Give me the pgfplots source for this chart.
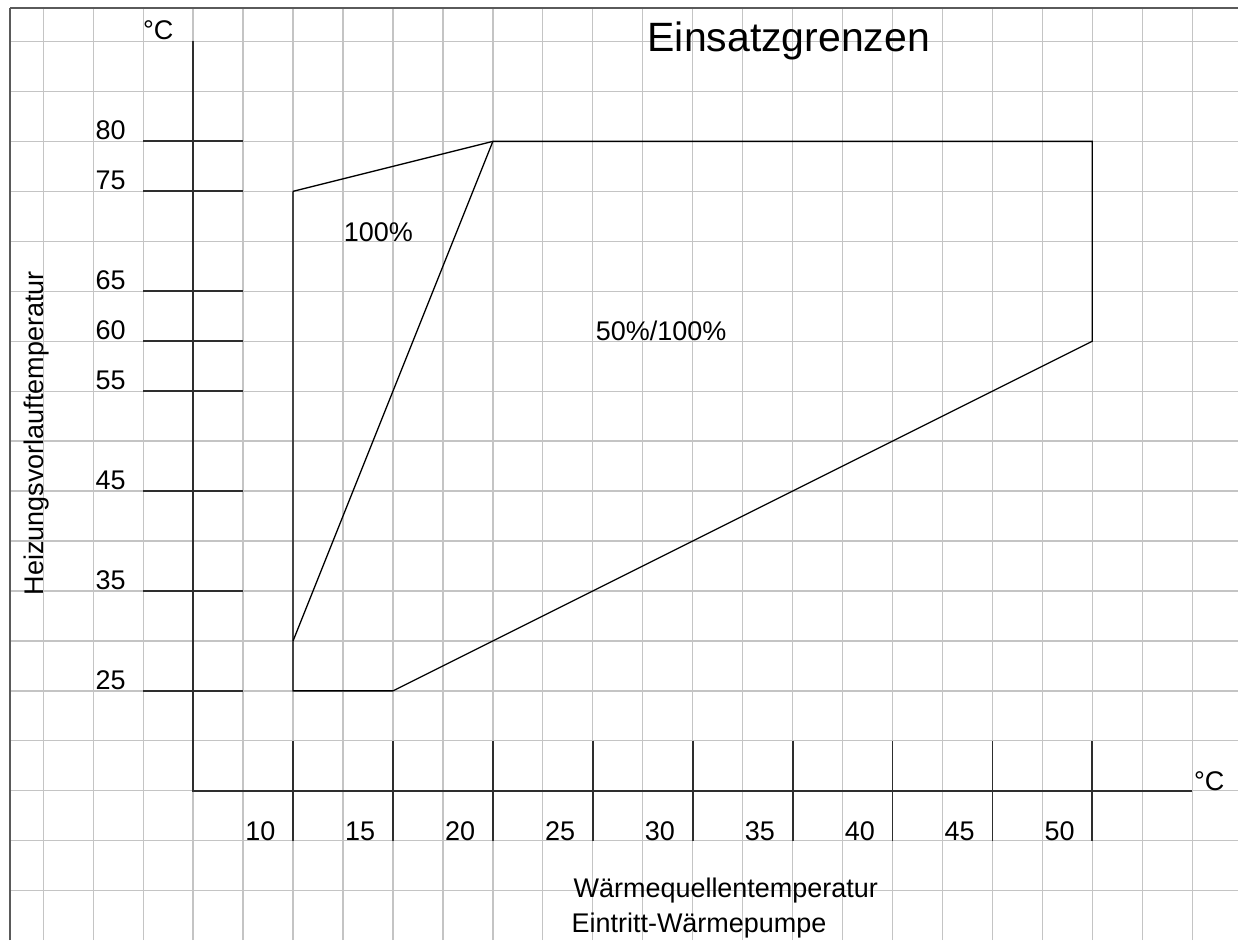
\documentclass[border=0pt]{standalone}
\usepackage{fontspec}
\setmainfont{Liberation Sans}
\usepackage{pgfplots}
\pgfplotsset{compat=1.18}

\definecolor{gridgray}{HTML}{C4C4C4}
\definecolor{framegray}{HTML}{5A5A5A}
\definecolor{axisdark}{HTML}{2E2E2E}

% one picture pixel = 1pt
\newcommand{\lbl}{\fontsize{27}{31}\selectfont}

\begin{document}
\begin{tikzpicture}
\begin{axis}[
    scale only axis,
    width=1229pt, height=933pt,
    xmin=-4.165, xmax=57.285,
    ymin=0.05, ymax=93.35,
    separate axis lines,
    axis x line=top, axis y line=left,
    axis line style={-, draw=framegray, line width=2.2pt},
    xtick={-2.5,0,...,57.5}, ytick={5,10,...,90},
    xticklabels={}, yticklabels={},
    major tick length=0pt,
    grid=major,
    grid style={gridgray, line width=1.3pt},
    unbounded coords=jump,
    every axis plot/.append style={no marks},
]
% axes with their long tick lines
\addplot[axisdark, line width=1.8pt] coordinates {(5,90) (5,15) (55,15)};
\addplot[axisdark, line width=1.8pt] coordinates {
    (2.5,80) (7.5,80) (nan,nan)
    (2.5,75) (7.5,75) (nan,nan)
    (2.5,65) (7.5,65) (nan,nan)
    (2.5,60) (7.5,60) (nan,nan)
    (2.5,55) (7.5,55) (nan,nan)
    (2.5,45) (7.5,45) (nan,nan)
    (2.5,35) (7.5,35) (nan,nan)
    (2.5,25) (7.5,25)
};
\addplot[axisdark, line width=1.8pt] coordinates {
    (10,20) (10,10) (nan,nan)
    (15,20) (15,10) (nan,nan)
    (20,20) (20,10) (nan,nan)
    (25,20) (25,10) (nan,nan)
    (30,20) (30,10) (nan,nan)
    (35,20) (35,10) (nan,nan)
    (40,20) (40,10) (nan,nan)
    (45,20) (45,10) (nan,nan)
    (50,20) (50,10)
};

% operating limits
\addplot[black, line width=1.3pt] coordinates {
    (10,75) (20,80) (50,80) (50,60) (15,25) (10,25) (10,75)
};
\addplot[black, line width=1.3pt] coordinates {(10,30) (20,80)};

% texts
\node[anchor=base, inner sep=0pt, font=\fontsize{41}{48}\selectfont]
    at (axis cs:34.81,88.95) {Einsatzgrenzen};
\node[anchor=base west, inner sep=0pt, font=\lbl] at (axis cs:2.49,90.15) {°C};
\node[anchor=base west, inner sep=0pt, font=\lbl] at (axis cs:55.085,15.08) {°C};

\pgfplotsinvokeforeach{80,75,65,60,55,45,35,25}{
    \node[anchor=base west, inner sep=0pt, font=\lbl, yshift=1.7pt]
        at (axis cs:0.11,#1) {#1};
}
\pgfplotsinvokeforeach{10,15,20,25,30,35,40,45,50}{
    \node[anchor=base west, inner sep=0pt, font=\lbl, xshift=-48pt]
        at (axis cs:#1,10.02) {#1};
}

\node[anchor=base west, inner sep=0pt, font=\lbl] at (axis cs:12.535,70.02) {100\%};
\node[anchor=base west, inner sep=0pt, font=\lbl] at (axis cs:25.15,60.02) {50\%/100\%};

\node[anchor=base, rotate=90, inner sep=0pt, font=\lbl]
    at (axis cs:-2.465,50.8) {Heizungsvorlauftemperatur};
\node[anchor=base west, inner sep=0pt, font=\lbl] at (axis cs:24.03,4.35) {Wärmequellentemperatur};
\node[anchor=base west, inner sep=0pt, font=\lbl] at (axis cs:23.93,0.85) {Eintritt-Wärmepumpe};
\end{axis}
% white margin left of and above the frame
\path ([xshift=-10pt]current axis.south west) ([yshift=8pt]current axis.north east);
\end{tikzpicture}
\end{document}
